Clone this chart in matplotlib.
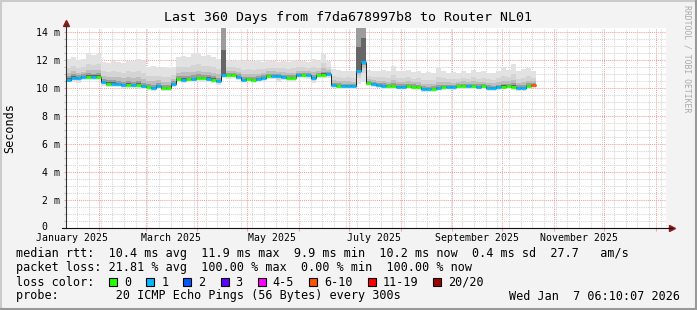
import datetime as dt
import matplotlib
matplotlib.use('Agg')
import matplotlib.pyplot as plt
import matplotlib.dates as mdates
import matplotlib.transforms as mtransforms
from matplotlib.ticker import MultipleLocator
from matplotlib.patches import Rectangle
from matplotlib.lines import Line2D

# periodo do grafico (ultimos 360 dias)
inicio = dt.datetime(2025, 1, 12, 6, 10, 7)
fim = inicio + dt.timedelta(days=360)
dias_por_bin = 3

# mediana do rtt por bin de 3 dias (ms)
mediana_ms = [
    10.60, 10.75, 10.70, 10.78, 10.80, 10.80, 10.82, 10.40, 10.32, 10.30,
    10.28, 10.22, 10.25, 10.20, 10.22, 10.12, 10.05, 10.00, 10.15, 9.98,
    9.98, 10.30, 10.62, 10.60, 10.65, 10.62, 10.70, 10.68, 10.65, 10.60,
    10.50, 10.95, 10.90, 10.95, 10.80, 10.60, 10.62, 10.60, 10.62, 10.75,
    10.88, 10.85, 10.85, 10.78, 10.75, 10.72, 10.95, 10.92, 10.90, 10.70,
    10.90, 10.95, 10.98, 10.20, 10.15, 10.15, 10.15, 10.12, 11.20, 11.88,
    10.35, 10.30, 10.20, 10.15, 10.12, 10.12, 10.10, 10.10, 10.12, 10.10,
    10.05, 9.95, 9.92, 9.95, 9.98, 10.08, 10.10, 10.05, 10.12, 10.15,
    10.12, 10.14, 10.10, 10.12, 10.02, 10.00, 10.05, 10.10, 10.12, 10.08,
    10.00, 10.00, 10.15, 10.18]

# topo da fumaca (ping mais lento) por bin (ms)
fumaca_alta_ms = [
    12.10, 12.24, 12.00, 12.10, 12.50, 12.35, 12.45, 11.85, 11.80, 11.90,
    11.85, 11.80, 11.95, 11.90, 12.05, 11.90, 11.50, 11.55, 11.45, 11.50,
    11.40, 11.50, 12.20, 12.30, 12.25, 12.45, 12.50, 12.30, 12.35, 12.20,
    12.10, 40.00, 12.00, 11.95, 12.00, 11.90, 11.95, 11.90, 12.00, 11.85,
    11.90, 11.95, 11.85, 11.90, 11.85, 12.00, 11.90, 11.95, 11.85, 12.10,
    11.90, 12.45, 11.95, 11.35, 11.30, 11.20, 11.25, 11.20, 40.00, 40.00,
    11.30, 11.20, 11.25, 11.30, 11.20, 11.60, 11.25, 11.20, 11.30, 11.15,
    11.20, 11.10, 11.15, 11.10, 11.45, 11.20, 11.10, 11.15, 11.05, 11.20,
    11.10, 11.30, 11.15, 11.20, 11.10, 11.10, 11.25, 11.50, 11.30, 11.75,
    11.20, 11.35, 11.40, 11.20]

# base da fumaca (ping mais rapido) por bin (ms)
fumaca_baixa_ms = [
    10.40, 10.45, 10.35, 10.55, 10.60, 10.58, 10.60, 10.15, 10.10, 10.08,
    10.05, 10.00, 10.02, 9.98, 10.00, 9.92, 9.85, 9.80, 9.90, 9.78,
    9.78, 10.05, 10.40, 10.38, 10.42, 10.40, 10.48, 10.45, 10.42, 10.38,
    10.25, 10.70, 10.65, 10.70, 10.55, 10.40, 10.40, 10.38, 10.40, 10.50,
    10.65, 10.62, 10.40, 10.55, 10.52, 10.50, 10.72, 10.70, 10.65, 10.35,
    10.68, 10.72, 10.75, 9.98, 9.95, 9.95, 9.95, 9.90, 10.30, 10.40,
    10.12, 10.08, 10.00, 9.95, 9.92, 9.92, 9.90, 9.90, 9.92, 9.90,
    9.85, 9.75, 9.72, 9.75, 9.78, 9.88, 9.90, 9.85, 9.92, 9.95,
    9.92, 9.94, 9.90, 9.92, 9.82, 9.80, 9.85, 9.90, 9.92, 9.88,
    9.80, 9.80, 9.95, 9.98]

# pacotes perdidos (de 20) por bin
perdas = [
    1, 1, 1, 1, 0, 1, 0, 1, 0, 1,
    1, 1, 0, 1, 0, 1, 0, 1, 1, 0,
    0, 1, 0, 1, 0, 1, 0, 0, 1, 0,
    1, 1, 0, 0, 1, 1, 0, 0, 1, 1,
    0, 1, 1, 1, 0, 0, 1, 0, 1, 1,
    0, 0, 1, 1, 0, 1, 1, 1, 1, 1,
    0, 1, 1, 1, 0, 0, 1, 1, 0, 0,
    0, 1, 1, 0, 1, 0, 1, 1, 0, 0,
    1, 0, 1, 0, 1, 1, 1, 0, 0, 0,
    1, 1, 0, 6]

# cores de perda do smokeping
perda_rotulos = ['0', '1', '2', '3', '4-5', '6-10', '11-19', '20/20']
perda_limites = [0, 1, 2, 3, 4, 6, 11, 20]
perda_cores = ['#26ff00', '#00b8ff', '#0059ff', '#5e00ff',
               '#ff00ff', '#ff5500', '#ff0000', '#a00000']

# eixos
y_ticks = [0, 2, 4, 6, 8, 10, 12, 14]
y_rotulos = ['0  ', '2 m', '4 m', '6 m', '8 m', '10 m', '12 m', '14 m']
meses_rotulos = ['January 2025', 'March 2025', 'May 2025',
                 'July 2025', 'September 2025', 'November 2025']
meses_datas = [dt.datetime(2025, m, 1) for m in (1, 3, 5, 7, 9, 11)]

titulo = 'Last 360 Days from f7da678997b8 to Router NL01'
linha_rtt = ('median rtt:  10.4 ms avg  11.9 ms max  9.9 ms min  '
             '10.2 ms now  0.4 ms sd  27.7   am/s')
linha_perda = 'packet loss: 21.81 % avg  100.00 % max  0.00 % min  100.00 % now'
linha_probe = 'probe:        20 ICMP Echo Pings (56 Bytes) every 300s'
data_geracao = 'Wed Jan  7 06:10:07 2026'

# camadas de fumaca (fracao da distancia a mediana, cor)
camadas = [(1.0, '#e2e2e2'), (0.55, '#d4d4d4'), (0.3, '#bebebe'),
           (0.15, '#9c9c9c'), (0.06, '#666666')]

plt.rcParams['font.family'] = 'DejaVu Sans Mono'

W, H = 697, 310
def fx(x):
    return x / W
def fy(y):
    return (H - y) / H

fig = plt.figure(figsize=(W / 100, H / 100), dpi=100, facecolor='#f3f3f3')
ax = fig.add_axes([fx(66), fy(228), 600 / W, 200 / H])
ax.set_facecolor('white')

n = len(mediana_ms)
bordas = mdates.date2num([inicio + dt.timedelta(days=dias_por_bin * i) for i in range(n + 1)])

# fumaca
for frac, cor in camadas:
    cima = [m + frac * (a - m) for m, a in zip(mediana_ms, fumaca_alta_ms)]
    baixo = [m - frac * (m - b) for m, b in zip(mediana_ms, fumaca_baixa_ms)]
    ax.stairs(cima, bordas, baseline=baixo, fill=True, facecolor=cor,
              edgecolor='none', linewidth=0, zorder=2)

# mediana colorida pela perda
def cor_perda(p):
    c = perda_cores[0]
    for lim, cc in zip(perda_limites, perda_cores):
        if p >= lim:
            c = cc
    return c

ax.stairs(mediana_ms, bordas, baseline=None, color='#222222', linewidth=0.7, zorder=3)
ax.hlines(mediana_ms, bordas[:-1], bordas[1:], colors=[cor_perda(p) for p in perdas],
          linewidth=2.0, zorder=4)

ax.set_xlim(mdates.date2num(inicio), mdates.date2num(fim))
ax.set_ylim(0, 200 / 14)

# grade
ax.xaxis.set_major_locator(mdates.MonthLocator())
ax.xaxis.set_minor_locator(mdates.WeekdayLocator(byweekday=mdates.SU))
ax.set_yticks(y_ticks, labels=y_rotulos)
ax.yaxis.set_minor_locator(MultipleLocator(0.5))
ax.set_axisbelow(True)
ax.grid(which='major', color='#f2a0a0', linestyle=(0, (1, 1)), linewidth=0.75)
ax.grid(which='minor', color='#d4d4d4', linestyle=(0, (1, 1)), linewidth=0.75)
ax.tick_params(axis='x', which='both', labelbottom=False)
ax.tick_params(axis='x', which='major', length=2.2, width=0.75, color='#f2a0a0')
ax.tick_params(axis='x', which='minor', length=0)
ax.tick_params(axis='y', which='major', length=1.5, width=0.75, color='#f2a0a0',
               labelsize=7.1, pad=2.8)
ax.tick_params(axis='y', which='minor', length=1.5, width=0.75, color='#bbbbbb')
for s in ax.spines.values():
    s.set_visible(False)

sec = ax.secondary_xaxis('bottom')
sec.set_xticks(mdates.date2num([d + dt.timedelta(days=15) for d in meses_datas]),
               labels=meses_rotulos)
sec.tick_params(length=0, pad=3.6, labelsize=7.1)
sec.spines['bottom'].set_visible(False)

# o "0" sobe um pouco para nao encostar no rotulo de janeiro
zero = ax.get_yticklabels()[0]
zero.set_transform(zero.get_transform() +
                   mtransforms.ScaledTranslation(0, 1.5 / 100, fig.dpi_scale_trans))

# eixos com setas
ax.plot([0, 0], [0, 1.02], transform=ax.transAxes, color='#333333', lw=0.8, clip_on=False, zorder=6)
ax.plot([-0.007, 1.01], [0, 0], transform=ax.transAxes, color='#111111', lw=0.8, clip_on=False, zorder=6)
ax.plot([0], [1.025], marker='^', ms=4.5, color='#8b1a1a', transform=ax.transAxes, clip_on=False)
ax.plot([1.01], [0], marker='>', ms=4.5, color='#8b1a1a', transform=ax.transAxes, clip_on=False)

# textos
fig.text(fx(348.5), fy(18), titulo, ha='center', va='center', fontsize=9.5)
fig.text(fx(10), fy(128), 'Seconds', rotation=90, ha='center', va='center', fontsize=8.5)
fig.text(fx(687), fy(59), 'RRDTOOL / TOBI OETIKER', rotation=270, ha='center', va='center',
         fontsize=5.9, color='#aaaaaa')

fs = 8.5
cw = 7.1
fig.text(fx(16), fy(254), linha_rtt, ha='left', va='center', fontsize=fs)
fig.text(fx(16), fy(268), linha_perda, ha='left', va='center', fontsize=fs)
fig.text(fx(16), fy(282), 'loss color:', ha='left', va='center', fontsize=fs)
fig.text(fx(16), fy(296), linha_probe, ha='left', va='center', fontsize=fs)
fig.text(fx(680), fy(296), data_geracao, ha='right', va='center', fontsize=fs)

x = 109
for rot, cor in zip(perda_rotulos, perda_cores):
    fig.add_artist(Rectangle((fx(x), fy(286)), 8 / W, 8 / H, transform=fig.transFigure,
                             facecolor=cor, edgecolor='black', linewidth=0.8))
    fig.text(fx(x + 15), fy(282), rot, ha='left', va='center', fontsize=fs)
    x = x + 15 + len(rot) * cw + 15.1

# moldura
fig.add_artist(Line2D([0, 1], [fy(1), fy(1)], transform=fig.transFigure, color='#cbcbcb', lw=1.5))
fig.add_artist(Line2D([fx(1), fx(1)], [0, 1], transform=fig.transFigure, color='#cbcbcb', lw=1.5))
fig.add_artist(Line2D([0, 1], [fy(309), fy(309)], transform=fig.transFigure, color='#999999', lw=1.5))
fig.add_artist(Line2D([fx(696), fx(696)], [0, 1], transform=fig.transFigure, color='#999999', lw=1.5))

fig.savefig('out.png', dpi=100, facecolor=fig.get_facecolor())
